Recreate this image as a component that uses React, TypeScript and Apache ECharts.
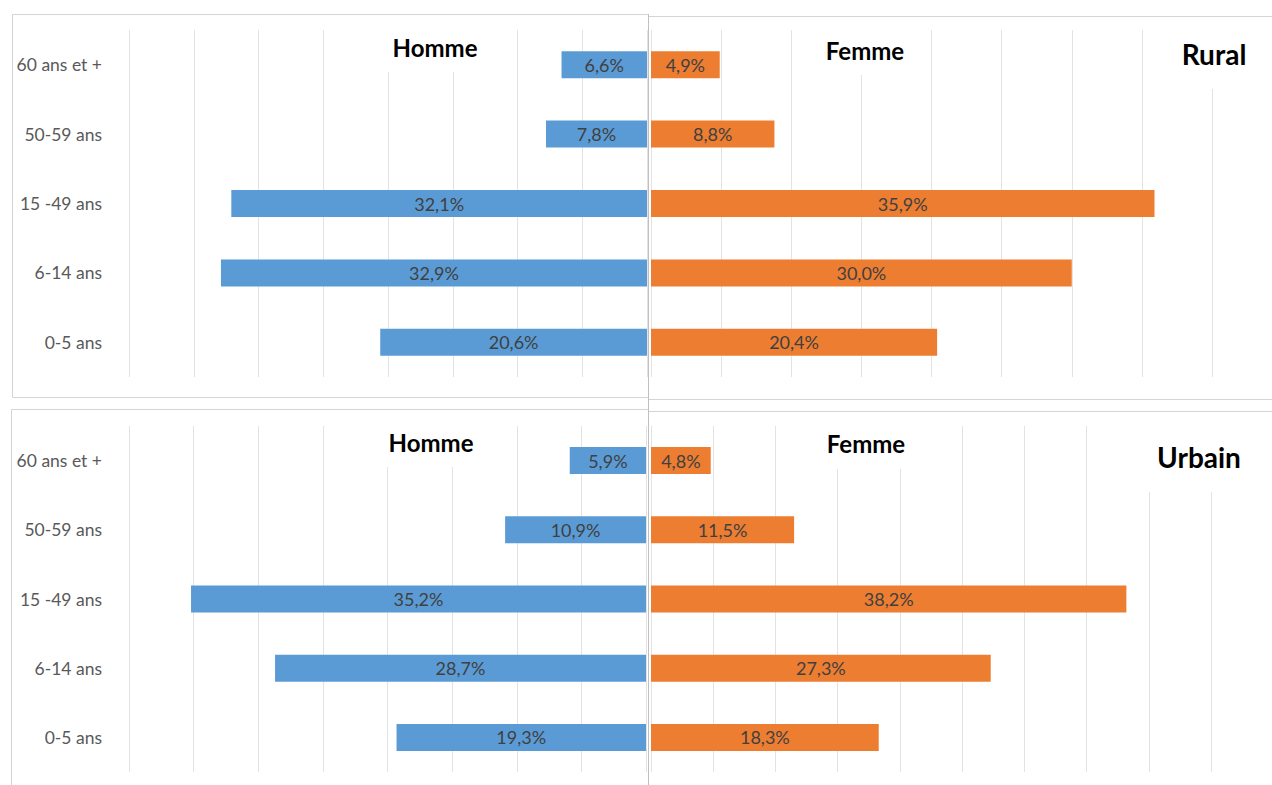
import React, { useEffect, useRef } from "react";
import * as echarts from "echarts";

// Age groups, bottom to top
const categories = ["0-5 ans", "6-14 ans", "15 -49 ans", "50-59 ans", "60 ans et +"];

// Share of each age group (%)
const ruralHomme = [20.6, 32.9, 32.1, 7.8, 6.6];
const ruralFemme = [20.4, 30.0, 35.9, 8.8, 4.9];
const urbainHomme = [19.3, 28.7, 35.2, 10.9, 5.9];
const urbainFemme = [18.3, 27.3, 38.2, 11.5, 4.8];

// Upper bound of each half's value axis
const axisMax = { ruralHomme: 40, ruralFemme: 40, urbainHomme: 40, urbainFemme: 45 };

const BLUE = "#5B9BD5";
const ORANGE = "#ED7D31";
const GRID_COLOR = "#e3e3e3";
const FONT = "Lato, 'Open Sans', sans-serif";

const fmt = (v: number) => v.toFixed(1).replace(".", ",") + "%";

function valueAxis(gridIndex: number, max: number, inverse: boolean) {
  return {
    type: "value",
    gridIndex,
    min: 0,
    max,
    interval: 5,
    inverse,
    axisLabel: { show: false },
    axisLine: { show: false },
    axisTick: { show: false },
    splitLine: { show: true, lineStyle: { color: GRID_COLOR, width: 1 } },
  };
}

function categoryAxis(gridIndex: number, showLabels: boolean) {
  return {
    type: "category",
    gridIndex,
    data: categories,
    axisLine: { show: false, onZero: false },
    axisTick: { show: false },
    axisLabel: {
      show: showLabels,
      color: "#595959",
      fontFamily: FONT,
      fontSize: 17.5,
      margin: 27,
    },
    splitLine: { show: false },
  };
}

function barSeries(idx: number, data: number[], color: string) {
  return {
    type: "bar",
    xAxisIndex: idx,
    yAxisIndex: idx,
    data,
    barWidth: 27,
    itemStyle: { color },
    label: {
      show: true,
      position: "inside",
      formatter: (p: any) => fmt(p.value),
      color: "#404040",
      fontFamily: FONT,
      fontSize: 18,
    },
  };
}

function title(text: string, x: number, y: number, size: number, box: number[]) {
  return [
    {
      type: "rect",
      z: 5,
      shape: { x: box[0], y: box[1], width: box[2], height: box[3] },
      style: { fill: "#ffffff" },
    },
    {
      type: "text",
      z: 6,
      x,
      y,
      style: {
        text,
        fill: "#000000",
        font: `bold ${size}px ${FONT}`,
        textAlign: "center",
        textVerticalAlign: "middle",
      },
    },
  ];
}

function frame(x: number, y: number, w: number, h: number) {
  return {
    type: "rect",
    z: 4,
    shape: { x, y, width: w, height: h },
    style: { fill: "none", stroke: "#d4d4d4", lineWidth: 1 },
  };
}

export default function App() {
  const ref = useRef<HTMLDivElement>(null);

  useEffect(() => {
    if (!ref.current) return;
    const chart = echarts.init(ref.current, undefined, { renderer: "svg" });

    chart.setOption({
      animation: false,
      backgroundColor: "#ffffff",
      grid: [
        { left: 129, top: 30, width: 518, height: 347 },
        { left: 651, top: 30, width: 561, height: 347 },
        { left: 129, top: 426, width: 517, height: 346 },
        { left: 651, top: 426, width: 560, height: 346 },
      ],
      xAxis: [
        valueAxis(0, axisMax.ruralHomme, true),
        valueAxis(1, axisMax.ruralFemme, false),
        valueAxis(2, axisMax.urbainHomme, true),
        valueAxis(3, axisMax.urbainFemme, false),
      ],
      yAxis: [
        categoryAxis(0, true),
        categoryAxis(1, false),
        categoryAxis(2, true),
        categoryAxis(3, false),
      ],
      series: [
        barSeries(0, ruralHomme, BLUE),
        barSeries(1, ruralFemme, ORANGE),
        barSeries(2, urbainHomme, BLUE),
        barSeries(3, urbainFemme, ORANGE),
      ],
      graphic: [
        frame(12.5, 14.5, 636, 383),
        frame(648.5, 16.5, 630, 383),
        frame(11.5, 409.5, 637, 390),
        frame(648.5, 411.5, 630, 390),
        {
          type: "line",
          z: 4,
          shape: { x1: 648.5, y1: 14, x2: 648.5, y2: 785 },
          style: { stroke: "#c0c0c0", lineWidth: 1 },
        },
        ...title("Homme", 435, 47, 24, [372, 28, 132, 44]),
        ...title("Femme", 865, 50, 24, [818, 28, 92, 47]),
        ...title("Rural", 1214, 54, 28, [1165, 28, 100, 61]),
        ...title("Homme", 431, 442, 24, [372, 424, 132, 43]),
        ...title("Femme", 866, 443, 24, [826, 424, 84, 45]),
        ...title("Urbain", 1199, 457, 28, [1140, 424, 120, 68]),
      ],
    });

    return () => chart.dispose();
  }, []);

  return (
    <div
      ref={ref}
      style={{ position: "fixed", left: 0, top: 0, width: 1272, height: 785, background: "#fff" }}
    />
  );
}
